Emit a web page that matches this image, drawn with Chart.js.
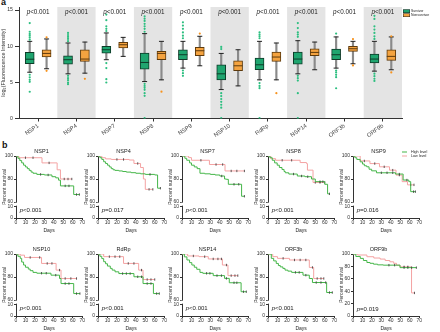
<!DOCTYPE html>
<html>
<head>
<meta charset="utf-8">
<script src="https://cdn.jsdelivr.net/npm/chart.js@4.4.1/dist/chart.umd.min.js"></script>
<style>
  body { margin: 0; background: #fff; font-family: "Liberation Sans", Arial, sans-serif; }
  #page { position: relative; width: 440px; height: 332px; overflow: hidden; background: #fff; }
  #page canvas { position: absolute; }
  .lab { position: absolute; font-weight: bold; font-size: 9px; color: #111; }
  .leg { position: absolute; transform: scale(.5); transform-origin: 0 0; font-size: 6.8px; line-height: 8.2px; color: #222; white-space: nowrap; }
  .sw { display: inline-block; width: 12px; height: 5px; border: 1px solid #222; margin-right: 2px; vertical-align: middle; }
  .ln { display: inline-block; width: 10px; height: 2px; margin-right: 8px; vertical-align: middle; }
</style>
</head>
<body>
<div id="page">
  <div class="lab" style="left:1px;top:-3px">a</div>
  <div class="lab" style="left:2px;top:140px">b</div>
  <canvas id="boxCanvas" width="440" height="142" style="left:0;top:0"></canvas>
  <div class="leg" style="left:403px;top:8.6px">
    <div><span class="sw" style="background:#1fa56f"></span>Survivor</div>
    <div><span class="sw" style="background:#f4a340"></span>Nonsurvivor</div>
  </div>
  <div class="leg" style="left:402px;top:149.5px;font-size:7.4px">
    <div><span class="ln" style="background:#45b649"></span>High level</div>
    <div><span class="ln" style="background:#f4a3a3"></span>Low level</div>
  </div>
</div>
<script>
const FONT = 'Liberation Sans';
Chart.defaults.font.family = FONT;

// ---------- panel a : fluorescence box plots ----------
const categories = ['NSP1', 'NSP4', 'NSP7', 'NSP8', 'NSP9', 'NSP10', 'RdRp', 'NSP14', 'ORF3b', 'ORF9b'];
const pValuesA = ['p<0.001', 'p<0.001', 'p<0.001', 'p<0.001', 'p<0.001', 'p<0.001', 'p<0.001', 'p<0.001', 'p<0.001', 'p<0.001'];
const yTicksA = [0, 5, 10, 15];

const survLow  = [6.4, 6.18, 8.13, 5.11, 6.97, 4.0, 5.35, 6.18, 6.97, 6.55];
const survQ1   = [7.57, 7.52, 9.05, 6.83, 8.13, 5.35, 6.74, 7.52, 8.13, 7.7];
const survMed  = [8.2, 8.13, 9.51, 7.75, 8.82, 6.18, 7.43, 8.22, 8.82, 8.22];
const survQ3   = [9.14, 8.68, 9.98, 9.05, 9.51, 7.43, 8.36, 9.19, 9.6, 8.91];
const survHigh = [10.67, 10.44, 11.83, 11.74, 10.67, 9.0, 10.67, 10.76, 11.28, 10.67];
const survOut  = [
  [13.2, 12.0, 11.7, 11.45, 11.2, 10.9, 6.05, 5.7, 5.35, 5.07, 3.7],
  [11.83, 11.55, 11.28, 11.0, 10.7, 5.9, 5.57, 5.3, 4.98, 4.75],
  [14.37, 13.6, 12.75, 12.4, 12.1, 7.67, 6.97, 5.44, 4.98],
  [14.14, 13.8, 13.5, 13.1, 12.75, 12.4, 12.0, 4.79, 4.5, 4.24, 3.96, 3.5, 3.13, 0.05],
  [13.3, 12.85, 12.4, 11.9, 11.45, 11.1, 6.64, 6.27, 5.9],
  [9.9, 9.6, 3.5, 3.1, 2.7, 2.3, 1.9, 1.5, 0.05],
  [11.9, 11.6, 11.37, 11.1, 4.9, 4.5, 4.2, 0.05],
  [13.2, 12.5, 11.9, 11.6, 11.3, 5.9, 5.57, 5.25, 3.5, 0.05],
  [11.74, 6.64, 6.37, 6.04, 5.72, 4.18],
  [14.2, 13.77, 12.75, 12.3, 11.83, 11.37, 11.0, 6.2, 5.85, 5.5, 5.2]
];

const nonLow  = [6.88, 6.27, 8.59, 5.35, 7.29, 4.51, 5.35, 6.74, 7.57, 6.74];
const nonQ1   = [8.5, 7.89, 9.75, 8.13, 8.68, 6.6, 7.89, 8.68, 9.28, 8.04];
const nonMed  = [9.0, 8.22, 10.2, 9.0, 9.37, 7.29, 8.5, 9.14, 9.65, 8.59];
const nonQ3   = [9.51, 9.51, 10.53, 9.28, 9.84, 7.98, 9.19, 9.65, 9.98, 9.51];
const nonHigh = [11.0, 10.57, 11.22, 10.67, 11.37, 9.51, 10.44, 10.57, 10.67, 11.28];
const nonOut  = [[11.22, 6.59], [5.48], [], [3.71], [11.74], [], [3.5], [], [10.98, 7.34], [11.37, 6.37]];

// ---------- panel b : survival curves ----------
const kmGenes = ['NSP1', 'NSP4', 'NSP7', 'NSP8', 'NSP9', 'NSP10', 'RdRp', 'NSP14', 'ORF3b', 'ORF9b'];
const kmP = ['p<0.001', 'p=0.017', 'p<0.001', 'p<0.001', 'p=0.016', 'p<0.001', 'p<0.001', 'p<0.001', 'p<0.001', 'p=0.019'];
const kmDayTicks = [0, 10, 20, 30, 40, 50, 60, 70];
const kmTopTicks = [60, 70, 80, 90, 100];
const kmBotTicks = [0, 10];
const kmFullTicks = [0, 20, 40, 60, 80, 100];

const highDays = [
  [0, 2, 4, 6, 8, 10, 12, 14, 16, 18, 22, 26, 30, 34, 38, 42, 45, 47, 52, 56, 61, 64, 67],
  [0, 2, 4, 6, 8, 10, 12, 14, 16, 18, 22, 26, 30, 35, 40, 45, 50, 55, 60, 63, 66],
  [0, 3, 5, 8, 10, 13, 16, 19, 24, 30, 35, 40, 42, 45, 47, 49, 55, 60, 63, 66],
  [0, 2, 4.5, 7, 9.7, 12, 14.8, 17, 18.3, 22, 27, 31, 35.5, 39, 42, 46, 50, 55, 58, 60, 63, 65],
  [0, 2, 4, 7.6, 10, 12, 14.5, 17, 19.7, 24.8, 30, 36, 42, 45, 49, 53, 57, 59, 61, 64, 66],
  [0, 2, 4.5, 6, 8, 10, 13, 15, 18, 22, 27, 32, 37, 42, 46, 47.6, 52, 56, 61, 64, 67.6],
  [0, 2, 4, 6, 8, 10, 13, 15, 18, 22, 26, 30, 34, 38, 42, 46, 47.6, 52, 56, 58.6, 62, 64.8],
  [0, 2.5, 5.2, 8, 10.4, 13, 15.6, 19, 22, 26, 29.5, 33, 37, 41.7, 45, 47, 50, 55, 58, 62.5, 65, 68],
  [0, 3.5, 6, 8.7, 11, 13, 15.7, 18, 21, 25, 29, 33, 37, 40, 43.7, 47, 51, 56, 61, 62, 65, 68],
  [0, 3, 7.7, 11, 14.7, 18, 21.7, 26, 32, 38, 44, 49.7, 54, 58, 62, 67]
];
const highSurv = [
  [100, 98, 96, 94, 92, 90.5, 89, 87.5, 86, 85, 84, 84, 83.5, 83.5, 82, 81, 79, 74, 74, 74, 66.5, 66.5, 66.5],
  [100, 98.5, 97, 95, 93.5, 92, 90.5, 89, 88, 87.5, 87, 86.5, 86, 85.5, 85, 84.5, 84, 84, 83.5, 72, 72],
  [100, 98, 96.3, 94, 92, 90.5, 89, 85, 84.5, 84, 83.5, 82.6, 82.6, 80, 79.7, 75.4, 75.4, 75.4, 65, 65],
  [100, 98.5, 96.3, 94, 92, 90, 88.3, 86.5, 85.4, 84.3, 84.3, 82.6, 82.6, 82, 82, 80, 77.7, 77.7, 77.7, 75.4, 67.1, 67.1],
  [100, 98.5, 97, 94.9, 93, 91.5, 90.6, 88.5, 87.1, 85.4, 85.4, 85.4, 85.4, 84.3, 84.3, 79.1, 79.1, 77.7, 69, 69, 69],
  [100, 98, 96.2, 93, 90.4, 88.5, 86.9, 85.5, 84, 83.3, 83.3, 83.3, 81.6, 81.6, 78.7, 74.3, 74.3, 74.3, 65.6, 65.6, 65.6],
  [100, 98, 96, 93.3, 91.5, 89.5, 87.5, 86, 84.5, 83, 83, 83, 83, 80.2, 80.2, 80.2, 74.3, 74.3, 74.3, 65.6, 65.6, 65.6],
  [100, 97.5, 94.8, 92.5, 90.4, 88.5, 86.7, 84, 83.2, 83.2, 83.2, 81.2, 81.2, 81.2, 78.8, 78.8, 75, 75, 75, 67.2, 67.2, 67.2],
  [100, 96.2, 94, 91.8, 90, 88.8, 87.5, 86, 85.1, 84, 84, 84, 81.6, 81.6, 78.7, 75.2, 75.2, 75.2, 75.2, 66.5, 66.5, 66.5],
  [100, 96, 92.9, 89.5, 86.3, 85, 83.6, 82.5, 82, 82, 82, 78, 78, 78, 78, 78]
];
const lowDays = [
  [0, 3, 10, 18, 27.5, 35, 43.5, 47, 51, 55, 59],
  [0, 4, 8, 14, 20, 27, 33, 38, 42, 45, 48, 50, 54, 58],
  [0, 7, 10, 20, 29, 36, 43, 45.5, 52, 58, 66],
  [0, 3, 8, 15, 25, 34, 40.7, 41.7, 47.6, 50, 55, 60],
  [0, 7.6, 12, 17.9, 23, 28, 33, 38.6, 42, 45.5, 49, 52, 57.6, 61, 64.5],
  [0, 4.5, 9, 15, 25, 27, 33, 38, 42.4, 46, 47.6, 52, 58, 64],
  [0, 6, 12, 18, 23, 27, 32, 38, 43, 46, 47.6, 52, 56, 60],
  [0, 6, 12, 18, 24, 27.8, 33, 38, 41.7, 42.7, 47, 48.6, 52, 56, 59],
  [0, 5, 10, 16, 22.7, 28, 34, 40, 43.7, 47, 48.3, 52, 56, 59],
  [0, 5, 14.7, 22, 28.7, 34, 39, 43, 46, 49.7, 54, 58, 61.9, 65]
];
const lowSurv = [
  [100, 98.5, 98.5, 98.5, 94, 94, 88, 80, 80, 80, 80],
  [100, 98.5, 97.5, 97, 97, 97, 96.5, 93.5, 93.5, 90, 80, 71, 71, 71],
  [100, 98.6, 96.3, 96.3, 92.6, 92.6, 92.6, 87, 87, 87, 87],
  [100, 97.7, 96.3, 96.3, 96.3, 94.3, 93.4, 87.7, 77, 77, 77, 77],
  [100, 95.7, 95.7, 93.4, 93.4, 90.6, 90.6, 87.7, 87.7, 83.4, 83.4, 77.7, 74.9, 74.9, 74.9],
  [100, 99, 97, 97, 97, 91.8, 91.8, 91.8, 86, 86, 78.7, 78.7, 78.7, 78.7],
  [100, 97.7, 97.7, 97.7, 97.7, 91.8, 91.8, 91.8, 86, 86, 77.8, 77.8, 77.8, 77.8],
  [100, 98.3, 98.3, 97.7, 97.7, 95.7, 95.7, 95.7, 95.7, 90.4, 90.4, 81.2, 81.2, 81.2, 81.2],
  [100, 97.7, 96.2, 96.2, 94.8, 94.8, 94.8, 94.8, 88.3, 88.3, 78.7, 78.7, 78.7, 78.7],
  [100, 98.4, 95.6, 93.5, 91.8, 89.5, 87.4, 85, 82, 79.2, 79.2, 79.2, 37.2, 37.2]
];

// layout of the small multiples (axis origin x, chart-area top y)
const kmCols = [16, 98, 182, 268, 353];
const kmRows = [156, 254];

const GREEN = '#1fa56f', GREEN_EDGE = '#0e3b28', GREEN_DOT = '#2dbf80';
const ORANGE = '#f4a340', ORANGE_EDGE = '#5e3a0c', ORANGE_DOT = '#f7931e';
const KM_GREEN = '#45b649', KM_RED = '#f4a3a3';
const AXIS = '#333';

function drawP(ctx, text, x, y, size, align) {
  const rest = text.slice(1);
  ctx.font = 'italic ' + size + 'px ' + FONT;
  const wp = ctx.measureText('p').width;
  ctx.font = size + 'px ' + FONT;
  const wr = ctx.measureText(rest).width;
  const x0 = align === 'center' ? x - (wp + wr) / 2 : x;
  ctx.textAlign = 'left';
  ctx.textBaseline = 'middle';
  ctx.fillStyle = '#222';
  ctx.font = 'italic ' + size + 'px ' + FONT;
  ctx.fillText('p', x0, y);
  ctx.font = size + 'px ' + FONT;
  ctx.fillText(rest, x0 + wp, y);
}

// grey bands behind every second group + p labels on top
const bandPlugin = {
  id: 'bands',
  beforeDraw(chart) {
    const {ctx, chartArea: a, scales: {x}} = chart;
    ctx.save();
    ctx.fillStyle = '#e4e4e4';
    categories.forEach((c, i) => {
      if (i % 2 === 1) {
        const l = x.getPixelForValue(i - 0.5), r = x.getPixelForValue(i + 0.5);
        ctx.fillRect(l, a.top, r - l, a.bottom - a.top);
      }
    });
    ctx.restore();
  },
  afterDraw(chart) {
    const {ctx, scales: {x, y}} = chart;
    ctx.save();
    pValuesA.forEach((p, i) => drawP(ctx, p, x.getPixelForValue(i), y.getPixelForValue(14.75), 6.3, 'center'));
    ctx.restore();
  }
};

const OFF = 0.22;
function boxSets(off, lo, q1, med, q3, hi, outs, fill, edge, dot) {
  const xs = categories.map((c, i) => i + off);
  return [
    { type: 'bar', data: xs.map((x, i) => ({x, y: [lo[i], hi[i]]})), backgroundColor: '#8a8a8a',
      barThickness: 1.5, grouped: false, order: 5 },
    { type: 'bar', data: xs.map((x, i) => ({x, y: [q1[i], q3[i]]})), backgroundColor: fill,
      borderColor: edge, borderWidth: 1, borderSkipped: false, barThickness: 9, grouped: false, order: 4 },
    { type: 'scatter', data: xs.flatMap((x, i) => [{x, y: lo[i]}, {x, y: hi[i]}]), pointStyle: 'line',
      pointRadius: 2.5, pointBorderColor: '#222', pointBorderWidth: 1, order: 3 },
    { type: 'scatter', data: xs.map((x, i) => ({x, y: med[i]})), pointStyle: 'line',
      pointRadius: 4.5, pointBorderColor: edge, pointBorderWidth: 1, order: 2 },
    { type: 'scatter', data: xs.flatMap((x, i) => outs[i].map(v => ({x, y: v}))), pointRadius: 1.1,
      pointBackgroundColor: dot, pointBorderWidth: 0, order: 1 }
  ];
}

new Chart(document.getElementById('boxCanvas'), {
  type: 'bar',
  data: {
    datasets: [
      ...boxSets(-OFF, survLow, survQ1, survMed, survQ3, survHigh, survOut, GREEN, GREEN_EDGE, GREEN_DOT),
      ...boxSets(OFF, nonLow, nonQ1, nonMed, nonQ3, nonHigh, nonOut, ORANGE, ORANGE_EDGE, ORANGE_DOT)
    ]
  },
  options: {
    responsive: false,
    animation: false,
    events: [],
    layout: { padding: { top: 7, right: 38, left: 0, bottom: 0 } },
    plugins: { legend: { display: false }, tooltip: { enabled: false } },
    scales: {
      x: {
        type: 'linear', min: -0.5, max: 9.5, offset: false,
        afterBuildTicks: s => { s.ticks = categories.map((c, i) => ({value: i})); },
        afterFit: s => { s.height = 23.5; },
        grid: { drawOnChartArea: false, offset: false, tickLength: 3, color: AXIS },
        border: { color: AXIS },
        ticks: { autoSkip: false, minRotation: 35, maxRotation: 35, padding: 1, color: '#444',
                 font: { size: 5.8 }, callback: v => categories[v] }
      },
      y: {
        min: 0, max: 15.42,
        afterBuildTicks: s => { s.ticks = yTicksA.map(v => ({value: v})); },
        afterFit: s => { s.width = 19; },
        grid: { drawOnChartArea: false, tickLength: 4, color: AXIS },
        border: { color: AXIS },
        ticks: { padding: 2, color: AXIS, font: { size: 5.2 } },
        title: { display: true, text: 'log₂(Fluorescence Intensity)', padding: 0, color: '#333', font: { size: 5.5 } }
      }
    }
  },
  plugins: [bandPlugin]
});

// ---------- survival plots ----------
const kmPlugin = {
  id: 'kmDeco',
  afterDraw(chart, args, opts) {
    const {ctx, chartArea: a, scales} = chart;
    ctx.save();
    if (scales.yBot) {
      const y1 = scales.yBot.getPixelForValue(13.9), y2 = scales.yBot.getPixelForValue(11.2);
      ctx.fillStyle = '#fff';
      ctx.fillRect(a.left - 1.5, y1, 3, y2 - y1);
    }
    ctx.fillStyle = '#333';
    ctx.font = '5px ' + FONT;
    ctx.textAlign = 'center';
    ctx.textBaseline = 'middle';
    ctx.translate(a.left - 11.5, (a.top + a.bottom) / 2);
    ctx.rotate(-Math.PI / 2);
    ctx.fillText('Percent survival', 0, 0);
    ctx.restore();
    ctx.save();
    const py = scales.yBot ? scales.yBot.getPixelForValue(7) : scales.y.getPixelForValue(10);
    drawP(ctx, opts.p, scales.x.getPixelForValue(4), py, 6, 'left');
    ctx.restore();
  }
};

function yAxis(extra) {
  return Object.assign({
    position: 'left',
    grid: { drawOnChartArea: false, tickLength: 2, color: AXIS },
    border: { color: AXIS },
    ticks: { padding: 1, color: AXIS, font: { size: 5 } },
    afterFit: s => { s.width = 16; }
  }, extra);
}

function kmScales(broken) {
  const x = {
    type: 'linear', min: 0, max: 70,
    afterBuildTicks: s => { s.ticks = kmDayTicks.map(v => ({value: v})); },
    afterFit: s => { s.height = 16; },
    grid: { drawOnChartArea: false, tickLength: 2, color: AXIS },
    border: { color: AXIS },
    ticks: { padding: 0, autoSkip: false, maxRotation: 0, color: AXIS, font: { size: 5 } },
    title: { display: true, text: 'Days', padding: 0, color: '#222', font: { size: 5 } }
  };
  if (!broken) {
    return { x, y: yAxis({ min: 0, max: 100, afterBuildTicks: s => { s.ticks = kmFullTicks.map(v => ({value: v})); } }) };
  }
  // left boxes are placed in reverse order, so the lower segment is declared first
  return {
    x,
    yBot: yAxis({ stack: 'km', stackWeight: 16, min: 0, max: 14.5,
                  afterBuildTicks: s => { s.ticks = kmBotTicks.map(v => ({value: v})); } }),
    yTop: yAxis({ stack: 'km', stackWeight: 46, min: 60, max: 100,
                  afterBuildTicks: s => { s.ticks = kmTopTicks.map(v => ({value: v})); } })
  };
}

function kmSet(days, surv, color, yId) {
  return {
    data: days.map((d, j) => ({x: d, y: surv[j]})),
    yAxisID: yId,
    stepped: true,
    borderColor: color,
    borderWidth: 1,
    fill: false,
    pointStyle: 'line',
    pointRotation: 90,
    pointBorderColor: '#333',
    pointBorderWidth: 0.8,
    pointRadius: c => (c.dataIndex > 0 && surv[c.dataIndex] === surv[c.dataIndex - 1]) ? 1.2 : 0
  };
}

const page = document.getElementById('page');
kmGenes.forEach((g, k) => {
  const cv = document.createElement('canvas');
  cv.width = 87;
  cv.height = 90;
  cv.style.left = (kmCols[k % 5] - 16) + 'px';
  cv.style.top = (kmRows[Math.floor(k / 5)] - 12) + 'px';
  page.appendChild(cv);
  const broken = g !== 'ORF9b';
  const yId = broken ? 'yTop' : 'y';
  new Chart(cv, {
    type: 'line',
    data: {
      datasets: [
        kmSet(highDays[k], highSurv[k], KM_GREEN, yId),
        kmSet(lowDays[k], lowSurv[k], KM_RED, yId)
      ]
    },
    options: {
      responsive: false,
      animation: false,
      events: [],
      layout: { padding: { top: 0, right: 4, left: 0, bottom: 0 } },
      plugins: {
        legend: { display: false },
        tooltip: { enabled: false },
        title: { display: true, text: g, color: '#222', font: { size: 5.5, weight: 'normal' }, padding: { top: 4.4, bottom: 1 } },
        kmDeco: { p: kmP[k] }
      },
      scales: kmScales(broken)
    },
    plugins: [kmPlugin]
  });
});
</script>
</body>
</html>
